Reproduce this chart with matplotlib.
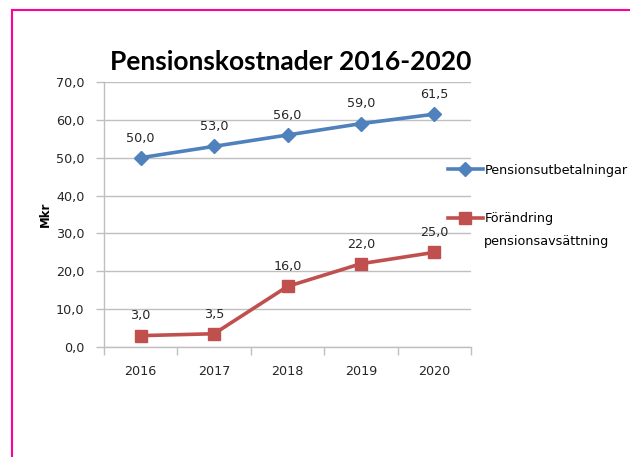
import matplotlib.pyplot as plt
from matplotlib.lines import Line2D

years = ['2016', '2017', '2018', '2019', '2020']
utbetalningar = [50.0, 53.0, 56.0, 59.0, 61.5]
avsattning = [3.0, 3.5, 16.0, 22.0, 25.0]
yticks = [0, 10, 20, 30, 40, 50, 60, 70]

plt.rcParams['font.family'] = ['DejaVu Sans']

blue = '#4F81BD'
red = '#C0504D'
grid = '#BFBFBF'
txt = '#262626'
fs = 9.2

fig = plt.figure(figsize=(6.3, 4.57), dpi=100)
ax = fig.add_axes([104/630, 1-347/457, 367/630, 265/457])

x = list(range(len(years)))
ax.plot(x, utbetalningar, color=blue, lw=2.6, marker='D', ms=7,
        label='Pensionsutbetalningar', zorder=3)
ax.plot(x, avsattning, color=red, lw=2.6, marker='s', ms=8.3,
        label='Förändring', zorder=3)

# data labels above points
for series in (utbetalningar, avsattning):
    for xi, v in zip(x, series):
        ax.annotate(f'{v:.1f}'.replace('.', ','), (xi, v), xytext=(0, 9.5),
                    textcoords='offset points', ha='center', va='bottom',
                    fontsize=fs, color=txt)

ax.set_xlim(-0.5, len(years) - 0.5)
ax.set_ylim(0, 70)
ax.set_yticks(yticks)
ax.set_yticklabels([f'{t:.1f}'.replace('.', ',') for t in yticks])
ax.set_xticks(x)
ax.set_xticklabels(years)
ax.set_xticks([i - 0.5 for i in range(len(years) + 1)], minor=True)
ax.tick_params(axis='x', which='major', length=0, pad=13, labelsize=fs,
               labelcolor=txt)
ax.tick_params(axis='x', which='minor', length=6, color=grid, width=1)
ax.tick_params(axis='y', length=6, color=grid, width=1, pad=8,
               labelsize=fs, labelcolor=txt)

ax.grid(axis='y', color=grid, lw=1, zorder=0)
for s in ['top', 'right']:
    ax.spines[s].set_visible(False)
for s in ['left', 'bottom']:
    ax.spines[s].set_color(grid)
    ax.spines[s].set_linewidth(1)

ax.set_ylabel('Mkr', fontsize=8.5, fontweight='bold', labelpad=3)

fig.text(291/630, 1-62/457, 'Pensionskostnader 2016-2020', ha='center',
         va='center', fontsize=19, fontweight='bold', family='Lato')

ax.legend(loc='center left', bbox_to_anchor=(448/630, 1-194.5/457),
          bbox_transform=fig.transFigure, frameon=False, fontsize=fs,
          handlelength=2.7, handletextpad=0.2, labelspacing=2.75,
          borderpad=0, borderaxespad=0)
fig.text(484/630, 1-241/457, 'pensionsavsättning', ha='left', va='center',
         fontsize=fs, color='black')

# pink frame (top and left edges)
fig.add_artist(Line2D([12/630, 1], [1-10/457, 1-10/457], color='#FF0099',
                      lw=1.5, transform=fig.transFigure))
fig.add_artist(Line2D([12/630, 12/630], [0, 1-10/457], color='#FF0099',
                      lw=1.5, transform=fig.transFigure))

fig.savefig('out.png', dpi=100)
